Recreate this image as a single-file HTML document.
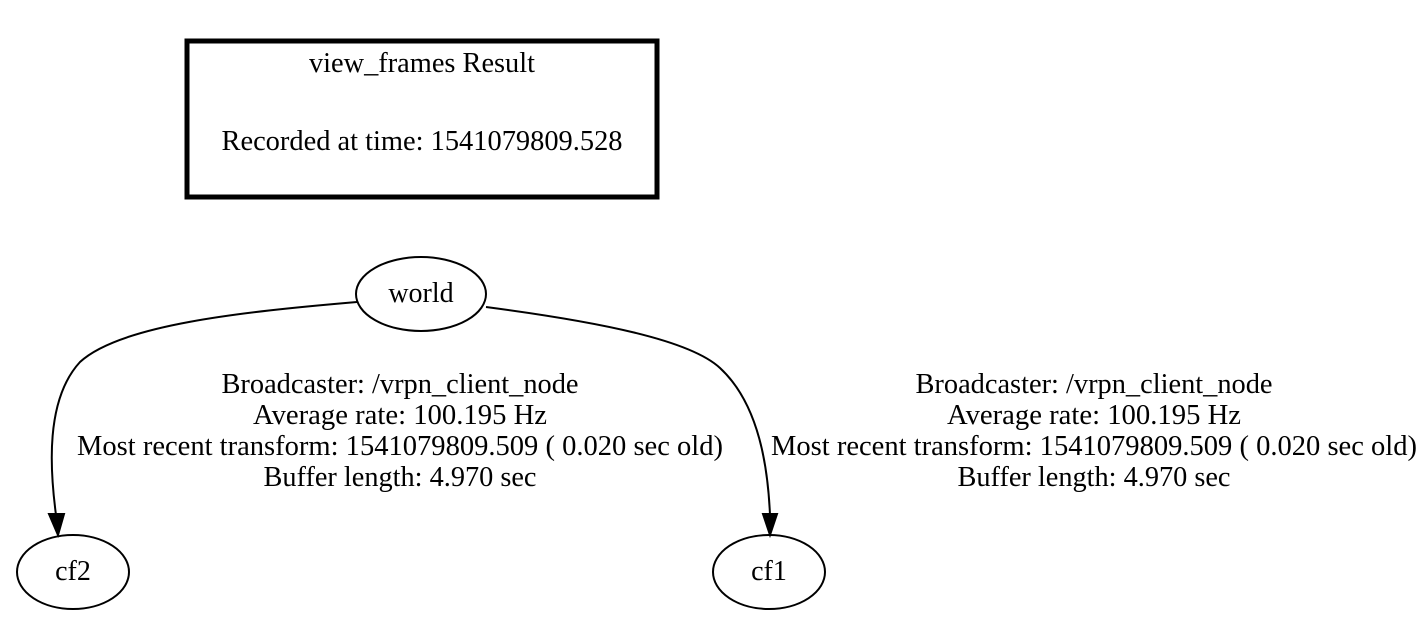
<!DOCTYPE html>
<html><head><meta charset="utf-8"><style>
html,body{margin:0;padding:0;background:#fff;}
svg{display:block;}
text{font-family:"Liberation Serif",serif;font-size:28px;fill:#000;}
</style></head><body>
<svg width="1427" height="627" viewBox="0 0 1427 627" xmlns="http://www.w3.org/2000/svg">
<rect x="187" y="41" width="470" height="156" fill="none" stroke="#000" stroke-width="5"/>
<text x="422" y="72" text-anchor="middle" textLength="226" lengthAdjust="spacingAndGlyphs">view_frames Result</text>
<text x="422" y="150" text-anchor="middle" textLength="401" lengthAdjust="spacingAndGlyphs">Recorded at time: 1541079809.528</text>

<ellipse cx="421" cy="294" rx="65" ry="37" fill="none" stroke="#000" stroke-width="2"/>
<text x="421" y="302" text-anchor="middle">world</text>
<ellipse cx="73" cy="572" rx="56" ry="37" fill="none" stroke="#000" stroke-width="2"/>
<text x="73" y="580" text-anchor="middle">cf2</text>
<ellipse cx="769" cy="572" rx="56" ry="37" fill="none" stroke="#000" stroke-width="2"/>
<text x="769" y="580" text-anchor="middle">cf1</text>

<path d="M357,302 C240,312 120,325 80,362 C45,400 50,470 56,515" fill="none" stroke="#000" stroke-width="2"/>
<polygon points="49,514 64,514 58,535" fill="#000" stroke="#000" stroke-width="2"/>
<path d="M486,307 C600,322 690,340 720,368 C760,405 768,470 770,515" fill="none" stroke="#000" stroke-width="2"/>
<polygon points="763,514 777,514 770,535" fill="#000" stroke="#000" stroke-width="2"/>

<g text-anchor="middle">
<text x="400" y="393" textLength="357" lengthAdjust="spacingAndGlyphs">Broadcaster: /vrpn_client_node</text>
<text x="400" y="424" textLength="294" lengthAdjust="spacingAndGlyphs">Average rate: 100.195 Hz</text>
<text x="400" y="455" textLength="646" lengthAdjust="spacingAndGlyphs">Most recent transform: 1541079809.509 ( 0.020 sec old)</text>
<text x="400" y="486" textLength="273" lengthAdjust="spacingAndGlyphs">Buffer length: 4.970 sec</text>
<text x="1094" y="393" textLength="357" lengthAdjust="spacingAndGlyphs">Broadcaster: /vrpn_client_node</text>
<text x="1094" y="424" textLength="294" lengthAdjust="spacingAndGlyphs">Average rate: 100.195 Hz</text>
<text x="1094" y="455" textLength="646" lengthAdjust="spacingAndGlyphs">Most recent transform: 1541079809.509 ( 0.020 sec old)</text>
<text x="1094" y="486" textLength="273" lengthAdjust="spacingAndGlyphs">Buffer length: 4.970 sec</text>
</g>
</svg>
</body></html>
